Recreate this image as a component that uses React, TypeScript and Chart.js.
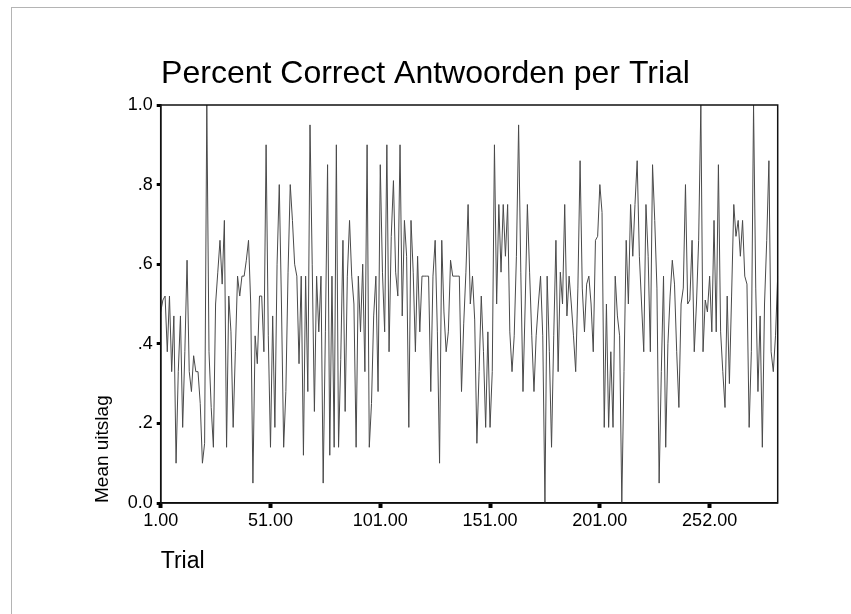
import React, { useEffect, useRef } from 'react';
import { Chart, registerables } from 'chart.js';

Chart.register(...registerables);

// Categories: trial numbers (trial 251 absent, so index 250 is trial 252)
const trials: number[] = [];
for (let t = 1; t <= 283; t++) {
  if (t !== 251) trials.push(t);
}

const xTickLabels = ['1.00', '51.00', '101.00', '151.00', '201.00', '252.00'];
const yTickLabels = ['0.0', '.2', '.4', '.6', '.8', '1.0'];

const meanUitslag: number[] = [
  0.48, 0.51, 0.52, 0.38, 0.52, 0.33, 0.47, 0.10, 0.33, 0.47,
  0.19, 0.38, 0.61, 0.33, 0.28, 0.37, 0.33, 0.33, 0.25, 0.10,
  0.15, 1.00, 0.38, 0.24, 0.14, 0.50, 0.58, 0.66, 0.55, 0.71,
  0.14, 0.52, 0.43, 0.19, 0.38, 0.57, 0.52, 0.57, 0.57, 0.61,
  0.66, 0.50, 0.05, 0.42, 0.35, 0.52, 0.52, 0.38, 0.90, 0.42,
  0.14, 0.47, 0.19, 0.60, 0.80, 0.50, 0.14, 0.28, 0.58, 0.80,
  0.71, 0.60, 0.57, 0.35, 0.57, 0.12, 0.57, 0.28, 0.95, 0.60,
  0.23, 0.57, 0.43, 0.57, 0.05, 0.43, 0.85, 0.12, 0.57, 0.14,
  0.90, 0.14, 0.36, 0.66, 0.23, 0.57, 0.71, 0.57, 0.50, 0.14,
  0.57, 0.43, 0.60, 0.33, 0.90, 0.14, 0.25, 0.47, 0.57, 0.28,
  0.85, 0.58, 0.43, 0.90, 0.38, 0.67, 0.81, 0.58, 0.52, 0.90,
  0.47, 0.71, 0.62, 0.19, 0.71, 0.58, 0.38, 0.62, 0.43, 0.57,
  0.57, 0.57, 0.57, 0.28, 0.57, 0.66, 0.43, 0.10, 0.66, 0.48,
  0.38, 0.43, 0.61, 0.57, 0.57, 0.57, 0.57, 0.28, 0.45, 0.58,
  0.75, 0.50, 0.57, 0.46, 0.15, 0.33, 0.52, 0.38, 0.19, 0.43,
  0.19, 0.33, 0.90, 0.50, 0.75, 0.58, 0.75, 0.62, 0.75, 0.43,
  0.33, 0.42, 0.62, 0.95, 0.58, 0.28, 0.50, 0.75, 0.58, 0.42,
  0.28, 0.42, 0.50, 0.57, 0.42, 0.00, 0.57, 0.38, 0.14, 0.42,
  0.66, 0.33, 0.58, 0.50, 0.75, 0.47, 0.57, 0.50, 0.42, 0.33,
  0.54, 0.86, 0.54, 0.43, 0.55, 0.57, 0.50, 0.38, 0.66, 0.67,
  0.80, 0.73, 0.19, 0.50, 0.19, 0.38, 0.19, 0.57, 0.47, 0.42,
  0.00, 0.33, 0.66, 0.50, 0.75, 0.62, 0.75, 0.86, 0.62, 0.50,
  0.38, 0.75, 0.62, 0.38, 0.85, 0.71, 0.54, 0.05, 0.33, 0.57,
  0.14, 0.40, 0.52, 0.61, 0.55, 0.38, 0.24, 0.50, 0.54, 0.80,
  0.50, 0.51, 0.66, 0.38, 0.50, 0.66, 1.00, 0.38, 0.51, 0.48,
  0.57, 0.43, 0.71, 0.43, 0.85, 0.43, 0.33, 0.24, 0.52, 0.30,
  0.52, 0.75, 0.67, 0.71, 0.62, 0.71, 0.57, 0.55, 0.19, 0.38,
  1.00, 0.54, 0.28, 0.47, 0.14, 0.50, 0.66, 0.86, 0.38, 0.33,
  0.42, 0.57,
];

const FONT = "'Liberation Sans', Arial, Helvetica, sans-serif";

const framePlugin = {
  id: 'plotFrame',
  afterDatasetsDraw(chart: any) {
    const { ctx, chartArea } = chart;
    ctx.save();
    ctx.strokeStyle = '#111';
    ctx.lineWidth = 1.5;
    ctx.strokeRect(chartArea.left, chartArea.top, chartArea.right - chartArea.left, chartArea.bottom - chartArea.top);
    ctx.restore();
  },
};

export default function App() {
  const canvasRef = useRef<HTMLCanvasElement | null>(null);

  useEffect(() => {
    if (!canvasRef.current) return;
    Chart.defaults.font.family = FONT;
    const chart = new Chart(canvasRef.current, {
      type: 'line',
      data: {
        labels: trials,
        datasets: [
          {
            label: 'Mean uitslag',
            data: meanUitslag,
            borderColor: '#4a4a4a',
            borderWidth: 1,
            pointRadius: 0,
            tension: 0,
            fill: false,
          },
        ],
      },
      options: {
        responsive: false,
        animation: false,
        layout: { padding: { top: 0, right: 0, bottom: 0, left: 0 } },
        plugins: {
          legend: { display: false },
          tooltip: { enabled: false },
          title: {
            display: true,
            text: 'Percent Correct Antwoorden per Trial',
            color: '#000',
            font: { family: FONT, size: 32, weight: 'normal' },
            padding: { top: 55, bottom: 11.6 },
          },
        },
        scales: {
          x: {
            type: 'category',
            offset: false,
            border: { display: true, color: '#000', width: 1.5 },
            grid: {
              display: true,
              drawOnChartArea: false,
              drawTicks: true,
              tickLength: 5,
              tickWidth: 4,
              color: 'rgba(0,0,0,0)',
              tickColor: (c: any) => (c.index % 50 === 0 ? '#000' : 'rgba(0,0,0,0)'),
            },
            ticks: {
              autoSkip: false,
              maxRotation: 0,
              minRotation: 0,
              padding: 2,
              color: '#000',
              font: { family: FONT, size: 18 },
              callback: (_v: any, i: number) => (i % 50 === 0 ? xTickLabels[i / 50] : ''),
            },
            title: {
              display: true,
              text: 'Trial',
              align: 'start',
              color: '#000',
              font: { family: FONT, size: 23 },
              padding: { top: 0, bottom: 39 },
            },
            afterFit: (s: any) => {
              s.height = 111;
            },
          },
          y: {
            min: 0,
            max: 1,
            border: { display: true, color: '#000', width: 1.5 },
            grid: {
              display: true,
              drawOnChartArea: false,
              drawTicks: true,
              tickLength: 4,
              tickWidth: 3,
              color: 'rgba(0,0,0,0)',
              tickColor: '#000',
            },
            ticks: {
              stepSize: 0.2,
              padding: 4,
              color: '#000',
              font: { family: FONT, size: 18 },
              callback: (_v: any, i: number) => yTickLabels[i],
            },
            title: {
              display: true,
              text: 'Mean uitslag',
              align: 'start',
              color: '#000',
              font: { family: FONT, size: 19 },
              padding: { top: 91.5, bottom: 0 },
            },
            afterFit: (s: any) => {
              s.width = 160.7;
            },
          },
          rightSpace: {
            type: 'linear',
            position: 'right',
            display: true,
            min: 0,
            max: 1,
            border: { display: false },
            grid: { display: false, drawTicks: false },
            ticks: { display: false },
            title: { display: false },
            afterFit: (s: any) => {
              s.width = 73.3;
            },
          },
        },
      } as any,
      plugins: [framePlugin],
    });
    return () => chart.destroy();
  }, []);

  return (
    <div style={{ position: 'absolute', left: 0, top: 0, width: 851, height: 614, background: '#fff' }}>
      <div
        style={{
          position: 'absolute',
          left: 11,
          top: 7,
          width: 840,
          height: 607,
          borderTop: '1px solid #b4b4b4',
          borderLeft: '1px solid #b4b4b4',
          boxSizing: 'border-box',
        }}
      />
      <canvas ref={canvasRef} width={851} height={614} style={{ position: 'absolute', left: 0, top: 0 }} />
    </div>
  );
}
